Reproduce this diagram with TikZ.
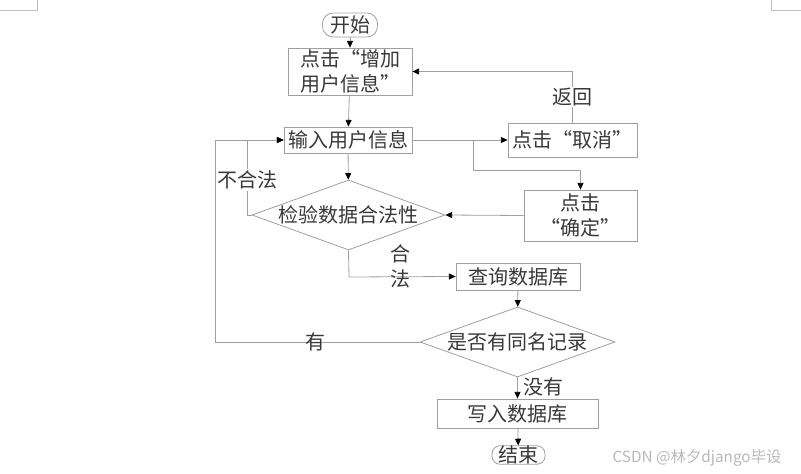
\documentclass[tikz,border=0pt]{standalone}
\usepackage{fontspec}
\setmainfont{Noto Sans CJK SC}
\usetikzlibrary{shapes.geometric,arrows.meta}

\begin{document}
\begin{tikzpicture}[x=0.75pt,y=-0.75pt,
    every node/.style={text=black!78,font=\fontsize{15pt}{18.75pt}\selectfont},
    box/.style={draw=gray!75,line width=0.6pt,inner sep=0pt,align=center},
    term/.style={box,rounded corners=8pt},
    test/.style={box,diamond,aspect=2.76},
    line/.style={draw=gray!75,line width=0.6pt},
    arrow/.style={line,-{Triangle[length=5pt,width=4.5pt,color=black]}},
    gap/.style={fill=white,inner sep=1pt}]
    \useasboundingbox (0,0) rectangle (801,474);
    % page corner marks
    \draw[gray!50] (0,10) -- (37,10) -- (37,0);
    \draw[gray!50] (771,0) -- (771,10) -- (801,10);
    % steps
    \node[term,minimum width=41.25pt,minimum height=18pt] (start) at (350,25) {开始};
    \node[box,minimum width=93pt,minimum height=35.25pt] (add) at (350,71.5) {点击“增加\\用户信息”};
    \node[box,minimum width=96pt,minimum height=19.5pt] (input) at (348,140) {输入用户信息};
    \node[box,minimum width=96.75pt,minimum height=25.5pt] (cancel) at (572.5,140) {点击“取消”};
    \node[box,minimum width=84.75pt,minimum height=38.25pt] (confirm) at (580.5,215.5) {点击\\“确定”};
    \node[test,minimum width=144.75pt,minimum height=52.5pt] (check) at (348.5,215) {检验数据合法性};
    \node[box,minimum width=93pt,minimum height=20.25pt] (query) at (518,276.5) {查询数据库};
    \node[test,minimum width=146.25pt,minimum height=52.5pt] (dup) at (517.5,342) {是否有同名记录};
    \node[box,minimum width=120.75pt,minimum height=21.75pt] (write) at (517.5,413.5) {写入数据库};
    \node[term,minimum width=39.75pt,minimum height=12.75pt,rounded corners=6pt] (end) at (518.5,455) {结束};
    % turning points
    \coordinate (fork) at (473,140);
    \coordinate (forkdown) at (473,170);
    \coordinate (illegal) at (247,215);
    \coordinate (found) at (215,342);
    \coordinate (legal) at (349,277);
    % main flow
    \draw[arrow] (start) -- (add);
    \draw[arrow] (add) -- (input);
    \draw[arrow] (input) -- (check);
    \draw[arrow] (check.south) -- (legal) -- (query.west);
    \draw[arrow] (query) -- (dup);
    \draw[arrow] (dup) -- (write);
    \draw[arrow] (write) -- (end);
    % side branches
    \draw[arrow] (input.east) -- (cancel.west);
    \draw[arrow] (fork) -- (forkdown) -| (confirm.north);
    \draw[arrow] (confirm.west) -- (check.east);
    \draw[arrow] (cancel.north) |- (add.east) node[gap,pos=0.25] (back) {返回};
    \draw[arrow] (check.west) -- (illegal) |- (input.west);
    \draw[arrow] (dup.west) -- (found) |- (input.west);
    % labels
    \node[gap] (nolabel) at (247,180) {不合法};
    \node[align=center,inner sep=0pt] (oklabel) at (400,266.5) {合\\法};
    \node[inner sep=0pt] (yeslabel) at (315,342) {有};
    \node[inner sep=0pt] (nonelabel) at (543.5,387) {没有};
    \node[text=gray!55,font=\fontsize{11.5pt}{13pt}\selectfont] (mark) at (697,458) {CSDN @林夕django毕设};
\end{tikzpicture}
\end{document}
